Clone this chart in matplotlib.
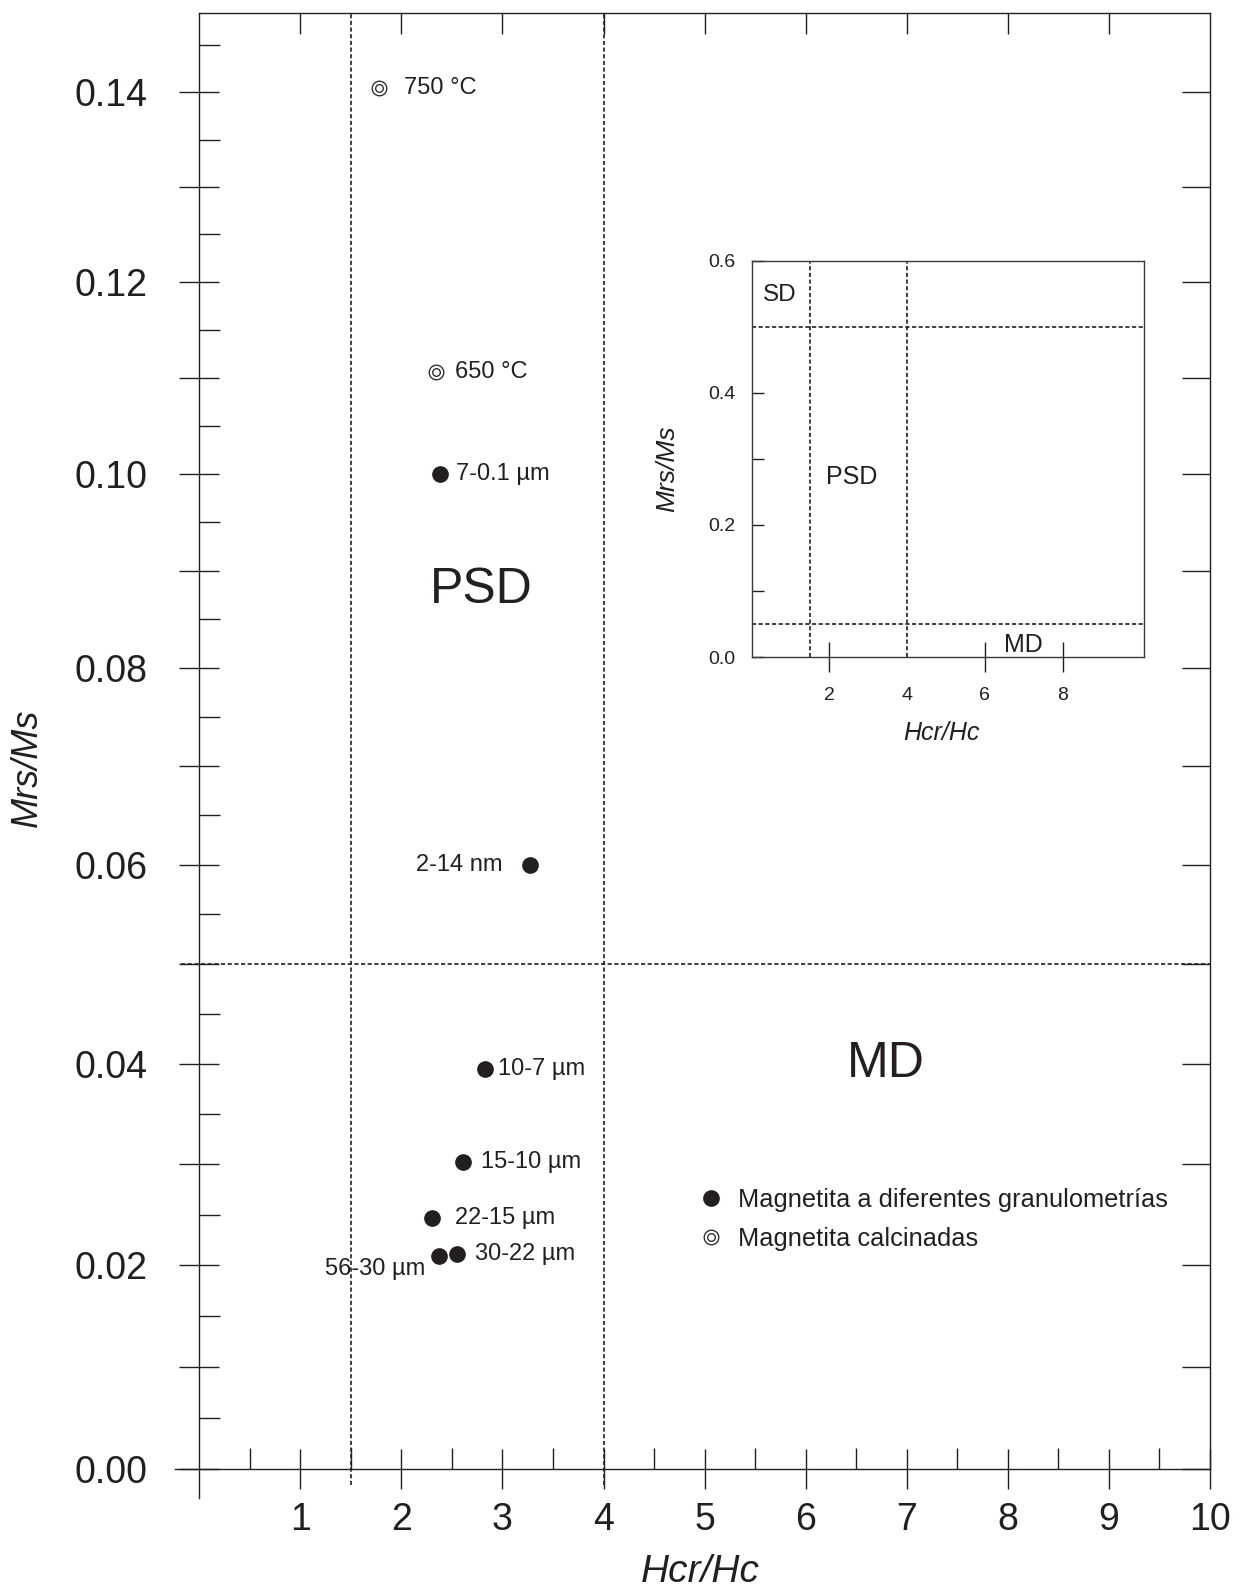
import numpy as np
import matplotlib
matplotlib.use('Agg')
import matplotlib.pyplot as plt
from matplotlib.ticker import FixedLocator, FuncFormatter
from matplotlib.lines import Line2D

plt.rcParams['font.family'] = ['Liberation Sans', 'DejaVu Sans']
INK = '#231f20'

# magnetite at different grain sizes
grain_labels = ['7-0.1 µm', '2-14 nm', '10-7 µm', '15-10 µm', '22-15 µm', '30-22 µm', '56-30 µm']
grain_hcr_hc = [2.38, 3.27, 2.83, 2.61, 2.30, 2.55, 2.37]
grain_mrs_ms = [0.1000, 0.0600, 0.0395, 0.0302, 0.0247, 0.0211, 0.0209]

# calcined magnetite
calc_labels = ['750 °C', '650 °C']
calc_hcr_hc = [1.78, 2.34]
calc_mrs_ms = [0.1405, 0.1106]

# domain boundaries (Day plot)
hcr_bounds = [1.5, 4.0]
mrs_bound_main = 0.05
mrs_bounds_inset = [0.5, 0.05]

legend_labels = ['Magnetita a diferentes granulometrías', 'Magnetita calcinadas']

# label offsets in points (dx, dy, ha)
grain_offsets = [(11.5, 0, 'left'), (-19.5, 0, 'right'), (9, 0, 'left'), (13, 0, 'left'),
                 (17, 0, 'left'), (12.7, 0, 'left'), (-9.6, -8.9, 'right')]
calc_offsets = [(18, 0, 'left'), (14, 0, 'left')]

# the original y axis is slightly stretched towards the bottom
A = 0.2875


def fwd(v):
    return v - A * np.asarray(v) ** 2


def inv(f):
    return (1 - np.sqrt(np.clip(1 - 4 * A * np.asarray(f), 0, None))) / (2 * A)


W, H = 1241, 1593
fig = plt.figure(figsize=(W / 100, H / 100), dpi=100)
ax = fig.add_axes([175 / W, 1 - 1498 / H, 1035 / W, 1485.5 / H])
ax.set_facecolor('none')
YMIN, YMAX = -0.00283, 0.1485
ax.set_yscale('function', functions=(fwd, inv))
ax.set_xlim(-0.24, 10)
ax.set_ylim(YMIN, YMAX)

for s in ax.spines.values():
    s.set_linewidth(1.0)
    s.set_color(INK)
ax.spines['left'].set_position(('data', 0))
ax.spines['bottom'].set_position(('data', 0))
ax.spines['top'].set_bounds(0, 10)
ax.spines['right'].set_bounds(0, YMAX)

# x ticks
ax.xaxis.set_major_locator(FixedLocator(np.arange(1, 11)))
ax.xaxis.set_minor_locator(FixedLocator(np.arange(0.5, 10, 1)))
ax.tick_params(axis='x', which='major', direction='inout', length=29.5, width=1,
               labelsize=27, pad=9, colors=INK)
ax.tick_params(axis='x', which='minor', direction='in', length=15, width=1, colors=INK)

# y ticks
ymaj = np.round(np.arange(0, 15) * 0.01, 2)
ymin_t = np.round(np.arange(0, 15) * 0.01 + 0.005, 3)
ax.yaxis.set_major_locator(FixedLocator(ymaj))
ax.yaxis.set_minor_locator(FixedLocator(ymin_t))
ax.yaxis.set_major_formatter(FuncFormatter(
    lambda v, p: f'{v:.2f}' if int(round(v * 100)) % 2 == 0 else ''))
ax.yaxis.set_minor_formatter(FuncFormatter(lambda v, p: ''))
ax.tick_params(axis='y', which='major', direction='inout', length=29, width=1,
               labelsize=27, pad=22.5, colors=INK)
ax.tick_params(axis='y', which='minor', direction='in', length=15, width=1, colors=INK)
ax.tick_params(top=False, right=False, which='both')

# right and top inward ticks
axr = ax.twinx()
axr.set_yscale('function', functions=(fwd, inv))
axr.set_ylim(YMIN, YMAX)
axr.yaxis.set_major_locator(FixedLocator(ymaj))
axr.yaxis.set_minor_locator(FixedLocator([]))
axr.tick_params(axis='y', direction='in', length=20, width=1, labelright=False, colors=INK)
for s in axr.spines.values():
    s.set_visible(False)

axt = ax.twiny()
axt.set_xlim(ax.get_xlim())
axt.xaxis.set_major_locator(FixedLocator(np.arange(1, 10)))
axt.xaxis.set_minor_locator(FixedLocator([]))
axt.tick_params(axis='x', direction='in', length=15, width=1, labeltop=False, colors=INK)
for s in axt.spines.values():
    s.set_visible(False)

# boundaries
dash = (0, (2.5, 1.5))
for xv in hcr_bounds:
    ax.plot([xv, xv], [-0.0016, YMAX], ls=dash, lw=1.2, color=INK, clip_on=False)
ax.plot([-0.18, 10], [mrs_bound_main, mrs_bound_main], ls=dash, lw=1.2, color=INK,
        clip_on=False)

# data
ax.plot(grain_hcr_hc, grain_mrs_ms, 'o', ms=11, color=INK, ls='none', zorder=3)
ax.plot(calc_hcr_hc, calc_mrs_ms, 'o', ms=10.5, mfc='none', mec=INK, mew=0.9,
        ls='none', zorder=3)
ax.plot(calc_hcr_hc, calc_mrs_ms, 'o', ms=5.5, mfc='none', mec=INK, mew=0.9,
        ls='none', zorder=3)

for lbl, x, y, (dx, dy, ha) in zip(grain_labels, grain_hcr_hc, grain_mrs_ms, grain_offsets):
    ax.annotate(lbl, (x, y), xytext=(dx, dy), textcoords='offset points', ha=ha,
                va='center', fontsize=17, color=INK)
for lbl, x, y, (dx, dy, ha) in zip(calc_labels, calc_hcr_hc, calc_mrs_ms, calc_offsets):
    ax.annotate(lbl, (x, y), xytext=(dx, dy), textcoords='offset points', ha=ha,
                va='center', fontsize=17, color=INK)

ax.text(2.79, 0.088, 'PSD', fontsize=36, ha='center', va='center', color=INK)
ax.text(6.79, 0.040, 'MD', fontsize=36, ha='center', va='center', color=INK)

h_fill = Line2D([], [], ls='none', marker='o', ms=11, color=INK)
h_out = Line2D([], [], ls='none', marker='o', ms=10.5, mfc='none', mec=INK, mew=0.9)
h_in = Line2D([], [], ls='none', marker='o', ms=5.5, mfc='none', mec=INK, mew=0.9)
leg = ax.legend([h_fill, (h_out, h_in)], legend_labels, loc='center left',
                bbox_to_anchor=(0.5058, 0.1875), frameon=False, fontsize=18.3,
                handlelength=1, handletextpad=0.55, labelspacing=0.62,
                borderpad=0, borderaxespad=0, numpoints=1)
for t in leg.get_texts():
    t.set_color(INK)

ax.set_xlabel('Hcr/Hc', fontsize=28, style='italic', color=INK)
ax.xaxis.set_label_coords(0.508, -0.0622)
ax.xaxis.label.set_va('bottom')
ax.set_ylabel('Mrs/Ms', fontsize=26, style='italic', color=INK)
ax.yaxis.set_label_coords(-0.1426, 0.4917)
ax.yaxis.label.set_va('center')

# inset: full Day plot
axi = fig.add_axes([751.7 / W, 1 - 657 / H, 392.6 / W, 396.3 / H])
axi.set_facecolor('none')
axi.set_xlim(0, 10.1)
axi.set_ylim(0, 0.6)
for s in axi.spines.values():
    s.set_linewidth(1.0)
    s.set_color('#3a3a3a')
axi.xaxis.set_major_locator(FixedLocator([2, 6, 8]))
axi.xaxis.set_minor_locator(FixedLocator([4]))
axi.xaxis.set_major_formatter(FuncFormatter(lambda v, p: f'{v:.0f}'))
axi.xaxis.set_minor_formatter(FuncFormatter(lambda v, p: f'{v:.0f}'))
axi.tick_params(axis='x', which='major', direction='inout', length=22, width=1,
                labelsize=14, pad=10.5, colors=INK)
axi.tick_params(axis='x', which='minor', length=0, labelsize=14, pad=21.5, colors=INK)
axi.yaxis.set_major_locator(FixedLocator([0, 0.2, 0.4, 0.6]))
axi.yaxis.set_minor_locator(FixedLocator([0.1, 0.3]))
axi.yaxis.set_major_formatter(FuncFormatter(lambda v, p: f'{v:.1f}'))
axi.tick_params(axis='y', which='both', direction='in', length=8.6, width=1,
                labelsize=14, pad=12, colors=INK)

for xv in hcr_bounds:
    axi.axvline(xv, ls=dash, lw=1.2, color=INK)
for yv in mrs_bounds_inset:
    axi.axhline(yv, ls=dash, lw=1.2, color=INK)

axi.text(0.28, 0.548, 'SD', fontsize=17.5, ha='left', va='center', color=INK)
axi.text(1.9, 0.273, 'PSD', fontsize=18, ha='left', va='center', color=INK)
axi.text(6.5, 0.018, 'MD', fontsize=18, ha='left', va='center', color=INK)

axi.set_xlabel('Hcr/Hc', fontsize=18, style='italic', color=INK)
axi.xaxis.set_label_coords(0.482, -0.192)
axi.xaxis.label.set_va('center')
axi.set_ylabel('Mrs/Ms', fontsize=19, style='italic', color=INK)
axi.yaxis.set_label_coords(-0.215, 0.474)
axi.yaxis.label.set_va('center')

fig.savefig('out.png', dpi=100)
